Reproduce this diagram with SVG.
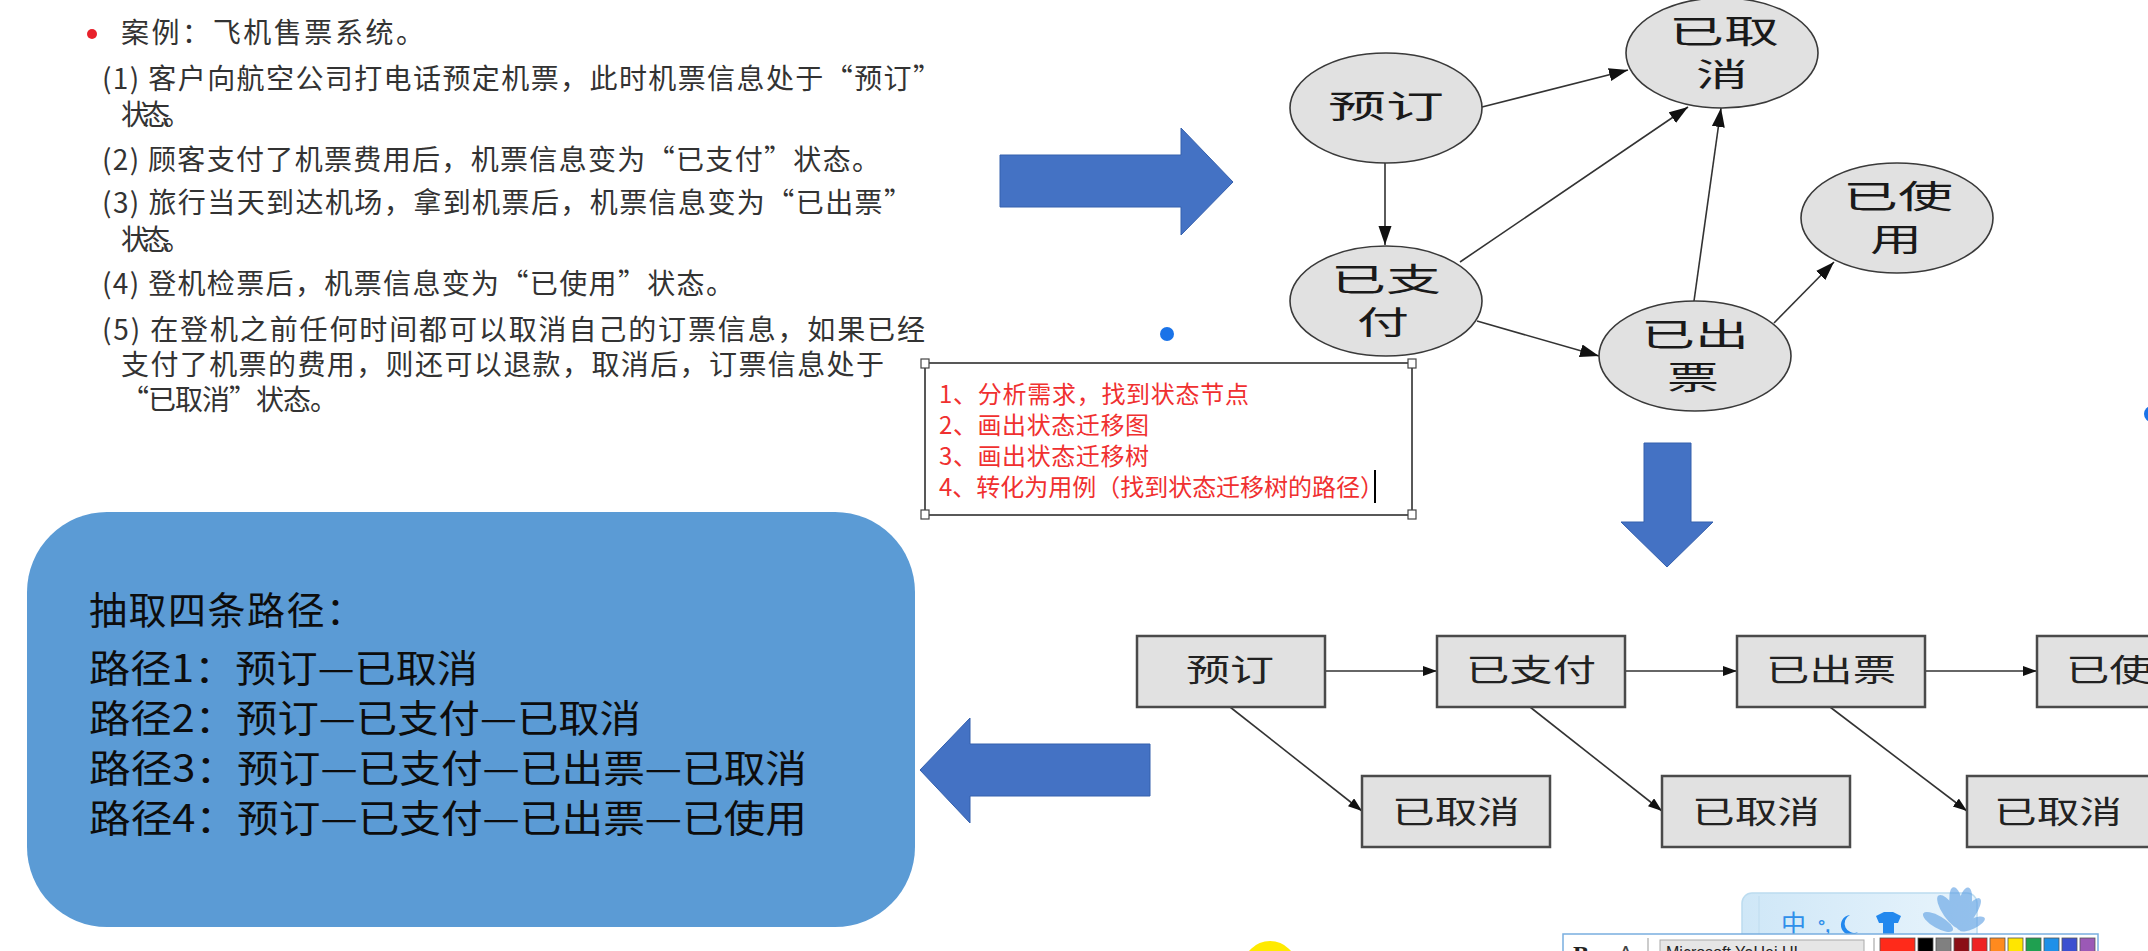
<svg xmlns="http://www.w3.org/2000/svg" width="2148" height="951" viewBox="0 0 2148 951">
<defs>
<style>
.lt{font-family:"Noto Sans CJK SC","Noto Sans",sans-serif;font-size:28px;fill:#333}
.st{font-family:"Noto Sans CJK SC",sans-serif;font-size:32px;fill:#1a1a1a;text-anchor:middle}
.tt{font-family:"Noto Sans CJK SC",sans-serif;font-size:31px;fill:#222;text-anchor:middle}
.rt{font-family:"Noto Sans CJK SC",sans-serif;font-size:24px;fill:#f03030}
.bt{font-family:"Noto Sans CJK SC",sans-serif;font-size:38px;fill:#0d0d0d}
.ell{fill:#e1e1e1;stroke:#3a3a3a;stroke-width:1.6}
.box{fill:#e1e1e1;stroke:#4a4a4a;stroke-width:2.5}
.con{stroke:#333;stroke-width:1.6;fill:none}
.big{fill:#4472c4;stroke:#3560ad;stroke-width:1}
.hd{fill:#fff;stroke:#444;stroke-width:1.2}
.sw{stroke:#555;stroke-width:0.8}
</style>
<marker id="ah" markerUnits="userSpaceOnUse" markerWidth="20" markerHeight="14" refX="19" refY="6.5" orient="auto">
<path d="M0,0 L19,6.5 L0,13 z" fill="#111"/>
</marker>
<marker id="ah2" markerUnits="userSpaceOnUse" markerWidth="15" markerHeight="11" refX="14" refY="5" orient="auto">
<path d="M0,0 L14,5 L0,10 z" fill="#111"/>
</marker>
<linearGradient id="ime" x1="0" y1="0" x2="1" y2="0">
<stop offset="0" stop-color="#cfe7f7"/>
<stop offset="1" stop-color="#e8f4fc"/>
</linearGradient>
</defs>
<rect width="2148" height="951" fill="#fff"/>

<g id="case-text">
<circle cx="92" cy="34" r="5" fill="#e8212b"/>
<text class="lt" x="121" y="43" textLength="303">案例：飞机售票系统。</text>
<text class="lt" x="102" y="89" textLength="839">(1) 客户向航空公司打电话预定机票，此时机票信息处于“预订”</text>
<text class="lt" x="121" y="125" textLength="70">状态。</text>
<text class="lt" x="102" y="170" textLength="778">(2) 顾客支付了机票费用后，机票信息变为“已支付”状态。</text>
<text class="lt" x="102" y="213" textLength="810">(3) 旅行当天到达机场，拿到机票后，机票信息变为“已出票”</text>
<text class="lt" x="121" y="250" textLength="70">状态。</text>
<text class="lt" x="102" y="294" textLength="632">(4) 登机检票后，机票信息变为“已使用”状态。</text>
<text class="lt" x="102" y="340" textLength="823">(5) 在登机之前任何时间都可以取消自己的订票信息，如果已经</text>
<text class="lt" x="121" y="375" textLength="763">支付了机票的费用，则还可以退款，取消后，订票信息处于</text>
<text class="lt" x="121" y="410" textLength="217">“已取消”状态。</text>
</g>

<g id="arrow-right"><polygon class="big" points="1000,155 1181,155 1181,128 1233,182 1181,235 1181,207 1000,207"/></g>
<g id="arrow-down"><polygon class="big" points="1644,443 1691,443 1691,522 1713,522 1667,567 1621,522 1644,522"/></g>
<g id="arrow-left"><polygon class="big" points="920,770 970,718 970,744 1150,744 1150,796 970,796 970,823"/></g>

<g id="dots">
<circle cx="1167" cy="334" r="7" fill="#1a73e8"/>
<circle cx="2152" cy="414" r="8" fill="#1a73e8"/>
</g>

<g id="steps-box">
<rect x="925" y="363" width="487" height="152" fill="#fff" stroke="#222" stroke-width="1.5"/>
<rect class="hd" x="921" y="359" width="8" height="9"/>
<rect class="hd" x="1408" y="359" width="8" height="9"/>
<rect class="hd" x="921" y="510" width="8" height="9"/>
<rect class="hd" x="1408" y="510" width="8" height="9"/>
<text class="rt" x="939" y="403" textLength="310">1、分析需求，找到状态节点</text>
<text class="rt" x="939" y="434" textLength="210">2、画出状态迁移图</text>
<text class="rt" x="939" y="465" textLength="210">3、画出状态迁移树</text>
<text class="rt" x="939" y="496" textLength="445">4、转化为用例（找到状态迁移树的路径）</text>
<line x1="1375" y1="470" x2="1375" y2="503" stroke="#000" stroke-width="2"/>
</g>

<g id="connectors">
<line class="con" x1="1482" y1="107" x2="1628" y2="70" marker-end="url(#ah)"/>
<line class="con" x1="1385" y1="163" x2="1385" y2="245" marker-end="url(#ah)"/>
<line class="con" x1="1460" y1="262" x2="1688" y2="107" marker-end="url(#ah)"/>
<line class="con" x1="1694" y1="301" x2="1721" y2="108" marker-end="url(#ah)"/>
<line class="con" x1="1477" y1="321" x2="1599" y2="356" marker-end="url(#ah)"/>
<line class="con" x1="1774" y1="323" x2="1834" y2="262" marker-end="url(#ah)"/>
<line class="con" x1="1325" y1="671" x2="1437" y2="671" marker-end="url(#ah2)"/>
<line class="con" x1="1626" y1="671" x2="1737" y2="671" marker-end="url(#ah2)"/>
<line class="con" x1="1926" y1="671" x2="2037" y2="671" marker-end="url(#ah2)"/>
<line class="con" x1="1230" y1="707" x2="1362" y2="811" marker-end="url(#ah2)"/>
<line class="con" x1="1530" y1="707" x2="1662" y2="811" marker-end="url(#ah2)"/>
<line class="con" x1="1830" y1="707" x2="1967" y2="811" marker-end="url(#ah2)"/>
</g>

<g id="s-yuding"><ellipse class="ell" cx="1386" cy="108" rx="96" ry="55"/><text class="st" x="1386" y="118" textLength="116" lengthAdjust="spacingAndGlyphs">预订</text></g>
<g id="s-yiquxiao"><ellipse class="ell" cx="1722" cy="53" rx="96" ry="55"/><text class="st" x="1724" y="43" textLength="110" lengthAdjust="spacingAndGlyphs">已取</text><text class="st" x="1722" y="86" textLength="52" lengthAdjust="spacingAndGlyphs">消</text></g>
<g id="s-yizhifu"><ellipse class="ell" cx="1386" cy="301" rx="96" ry="55"/><text class="st" x="1386" y="291" textLength="110" lengthAdjust="spacingAndGlyphs">已支</text><text class="st" x="1383" y="334" textLength="52" lengthAdjust="spacingAndGlyphs">付</text></g>
<g id="s-yichupiao"><ellipse class="ell" cx="1695" cy="356" rx="96" ry="55"/><text class="st" x="1695" y="346" textLength="108" lengthAdjust="spacingAndGlyphs">已出</text><text class="st" x="1693" y="389" textLength="52" lengthAdjust="spacingAndGlyphs">票</text></g>
<g id="s-yishiyong"><ellipse class="ell" cx="1897" cy="218" rx="96" ry="55"/><text class="st" x="1898" y="208" textLength="110" lengthAdjust="spacingAndGlyphs">已使</text><text class="st" x="1896" y="251" textLength="52" lengthAdjust="spacingAndGlyphs">用</text></g>

<g id="t-yuding"><rect class="box" x="1137" y="636" width="188" height="71"/><text class="tt" x="1230" y="681" textLength="88" lengthAdjust="spacingAndGlyphs">预订</text></g>
<g id="t-yizhifu"><rect class="box" x="1437" y="636" width="188" height="71"/><text class="tt" x="1531" y="681" textLength="130" lengthAdjust="spacingAndGlyphs">已支付</text></g>
<g id="t-yichupiao"><rect class="box" x="1737" y="636" width="188" height="71"/><text class="tt" x="1831" y="681" textLength="130" lengthAdjust="spacingAndGlyphs">已出票</text></g>
<g id="t-yishiyong"><rect class="box" x="2037" y="636" width="188" height="71"/><text class="tt" x="2131" y="681" textLength="130" lengthAdjust="spacingAndGlyphs">已使用</text></g>
<g id="t-yiquxiao1"><rect class="box" x="1362" y="776" width="188" height="71"/><text class="tt" x="1456" y="823" textLength="128" lengthAdjust="spacingAndGlyphs">已取消</text></g>
<g id="t-yiquxiao2"><rect class="box" x="1662" y="776" width="188" height="71"/><text class="tt" x="1756" y="823" textLength="128" lengthAdjust="spacingAndGlyphs">已取消</text></g>
<g id="t-yiquxiao3"><rect class="box" x="1967" y="776" width="188" height="71"/><text class="tt" x="2058" y="823" textLength="128" lengthAdjust="spacingAndGlyphs">已取消</text></g>

<g id="paths-box">
<rect x="27" y="512" width="888" height="415" rx="80" ry="80" fill="#5b9bd5"/>
<text class="bt" x="89" y="624" textLength="275">抽取四条路径：</text>
<text class="bt" x="89" y="682" textLength="389" lengthAdjust="spacingAndGlyphs">路径1：预订—已取消</text>
<text class="bt" x="89" y="732" textLength="552" lengthAdjust="spacingAndGlyphs">路径2：预订—已支付—已取消</text>
<text class="bt" x="89" y="782" textLength="718" lengthAdjust="spacingAndGlyphs">路径3：预订—已支付—已出票—已取消</text>
<text class="bt" x="89" y="832" textLength="718" lengthAdjust="spacingAndGlyphs">路径4：预订—已支付—已出票—已使用</text>
</g>

<g id="screen-overlay">
<circle cx="1270" cy="968" r="27" fill="#ffea00"/>
<rect x="1742" y="893" width="235" height="70" rx="10" fill="url(#ime)" stroke="#bcdcf0" stroke-width="1.5"/>
<line x1="1759" y1="896" x2="1759" y2="951" stroke="#c4e0f2" stroke-width="1.5"/>
<g fill="#5b9ee3" opacity="0.6">
<ellipse cx="1950" cy="912" rx="7" ry="20" transform="rotate(-35 1950 912)"/>
<ellipse cx="1957" cy="908" rx="7" ry="21" transform="rotate(-10 1957 908)"/>
<ellipse cx="1964" cy="908" rx="7" ry="21" transform="rotate(12 1964 908)"/>
<ellipse cx="1969" cy="914" rx="6" ry="19" transform="rotate(35 1969 914)"/>
<ellipse cx="1938" cy="922" rx="6" ry="17" transform="rotate(-60 1938 922)"/>
<ellipse cx="1972" cy="924" rx="5" ry="14" transform="rotate(65 1972 924)"/>
</g>
<text x="1781" y="933" font-family="Noto Sans CJK SC,sans-serif" font-size="25" fill="#2f8fea">中</text>
<text x="1818" y="932" font-family="Liberation Sans,sans-serif" font-weight="bold" font-size="18" fill="#2f8fea">°,</text>
<path d="M1850,915 a10,10 0 1 0 8,17 a8,8 0 0 1 -8,-17 z" fill="#2288ee"/>
<path d="M1876,916 l8,-4 h9 l8,4 l-3,7 h-4 v12 h-11 v-12 h-4 z" fill="#2288ee"/>
<rect x="1563" y="934" width="535" height="30" fill="#fff" stroke="#7aaee0" stroke-width="1.5"/>
<text x="1573" y="962" font-family="Liberation Serif,serif" font-weight="bold" font-size="24" fill="#222">B</text>
<text x="1619" y="960" font-family="Liberation Sans,sans-serif" font-size="20" fill="#444">A</text>
<line x1="1648" y1="938" x2="1648" y2="951" stroke="#999" stroke-width="1"/>
<rect x="1660" y="940" width="204" height="20" fill="#e6e6e6" stroke="#aaa" stroke-width="1"/>
<text x="1666" y="958" font-family="Liberation Sans,sans-serif" font-size="16" fill="#222">Microsoft YaHei UI</text>
<line x1="1874" y1="938" x2="1874" y2="951" stroke="#999" stroke-width="1"/>
<rect class="sw" x="1880" y="938" width="35" height="20" fill="#ff2a1a"/>
<rect class="sw" x="1918" y="938" width="15" height="20" fill="#000"/>
<rect class="sw" x="1936" y="938" width="15" height="20" fill="#808080"/>
<rect class="sw" x="1954" y="938" width="15" height="20" fill="#8b0f16"/>
<rect class="sw" x="1972" y="938" width="15" height="20" fill="#ee2222"/>
<rect class="sw" x="1990" y="938" width="15" height="20" fill="#ff8a1e"/>
<rect class="sw" x="2008" y="938" width="15" height="20" fill="#ffe600"/>
<rect class="sw" x="2026" y="938" width="15" height="20" fill="#1fa050"/>
<rect class="sw" x="2044" y="938" width="15" height="20" fill="#1e90e8"/>
<rect class="sw" x="2062" y="938" width="15" height="20" fill="#3c50d0"/>
<rect class="sw" x="2080" y="938" width="15" height="20" fill="#9b59b6"/>
</g>
</svg>
